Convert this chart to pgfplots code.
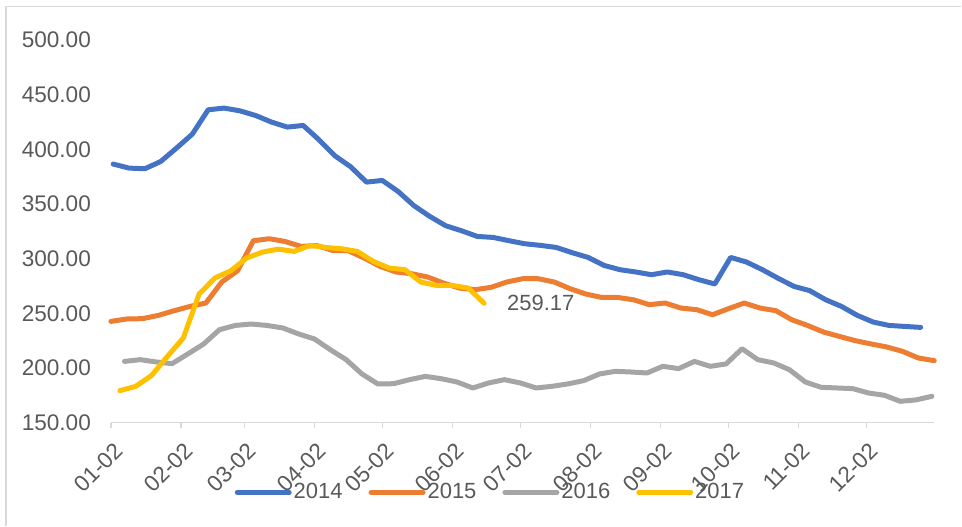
\documentclass[border=0pt]{standalone}
\usepackage{pgfplots}
\pgfplotsset{compat=1.18}
\usepackage{fontspec}
\setmainfont{Liberation Sans}
\definecolor{c14}{HTML}{4472C4}
\definecolor{c15}{HTML}{ED7D31}
\definecolor{c16}{HTML}{A5A5A5}
\definecolor{c17}{HTML}{FFC000}
\definecolor{txt}{HTML}{595959}
\definecolor{axl}{HTML}{D9D9D9}
\begin{document}
\begin{tikzpicture}
\begin{axis}[
  scale only axis, width=412pt, height=191.5pt,
  xmin=0, xmax=364, ymin=150, ymax=500,
  axis lines*=left,
  x axis line style={draw=axl, line width=0.8pt},
  y axis line style={draw=none},
  xtick={0,31,59,90,120,151,181,212,243,273,304,334},
  xticklabels={01-02,02-02,03-02,04-02,05-02,06-02,07-02,08-02,09-02,10-02,11-02,12-02},
  ytick={150,200,...,500},
  tick align=outside, major tick length=2.5pt,
  xtick style={draw=axl, line width=0.8pt},
  ytick style={draw=none},
  /pgf/number format/fixed,
  /pgf/number format/fixed zerofill,
  /pgf/number format/precision=2,
  /pgf/number format/assume math mode=true,
  yticklabel style={xshift=-4pt},
  xticklabel style={rotate=45, anchor=east, yshift=-9.5pt, xshift=-0.5pt},
  tick label style={font=\fontsize{11.3}{13}\selectfont, text=txt},
  clip=false,
  legend columns=4,
  legend style={draw=none, fill=none, at={(0.461,-0.182)}, anchor=center,
    font=\fontsize{11}{13}\selectfont, text=txt,
    /tikz/every even column/.append style={column sep=12pt},
    nodes={inner sep=1pt}},
  legend image code/.code={\draw[#1, line width=2.5pt, line cap=round] (0pt,0pt) -- (26pt,0pt);},
  every axis plot/.append style={line width=2.5pt, line join=round, line cap=round, mark=none},
]
\path (rel axis cs:-0.13471,-0.26893) rectangle (rel axis cs:1.03277,1.10444);
\draw[axl, line width=0.8pt] (rel axis cs:-0.12743,-0.26893) -- (rel axis cs:-0.12743,1.0869) -- (rel axis cs:1.03277,1.0869);
\addplot[c14] table[x expr={7*\coordindex+1}, y=v] {
v
386.5
382.8
382.2
388.8
401.1
413.9
436.1
437.7
435.2
430.9
424.9
420.3
421.8
408.7
394.1
384.0
370.0
371.5
361.4
348.4
338.6
330.1
325.5
320.3
319.4
316.4
313.6
312.1
310.2
305.4
301.1
293.8
289.9
287.8
285.3
287.8
285.3
280.7
276.8
301.1
296.9
289.9
282.0
274.6
270.7
262.4
256.3
248.1
242.0
238.9
238.0
237.1
};
\addlegendentry{2014}
\addplot[c15] table[x expr={7*\coordindex}, y=v] {
v
242.6
244.8
245.1
248.1
252.4
256.3
259.4
278.6
288.9
316.4
318.2
315.7
311.2
312.0
307.5
307.2
300.5
292.9
287.8
286.2
283.2
277.7
273.1
271.6
273.7
278.6
281.6
281.6
278.6
272.5
267.6
264.5
264.5
262.4
257.9
259.4
254.8
253.3
248.7
254.2
259.4
254.8
252.4
244.1
238.9
232.9
228.9
225.0
222.0
219.2
215.2
209.1
206.7
};
\addlegendentry{2015}
\addplot[c16] table[x expr={7*\coordindex+6}, y=v] {
v
206.0
207.6
205.5
203.9
212.8
221.9
235.0
238.9
240.2
238.9
236.6
231.1
226.5
216.7
207.6
194.5
185.4
185.6
189.3
192.3
190.2
187.2
181.7
186.3
189.3
186.3
181.7
183.2
185.4
188.4
194.5
196.9
196.3
195.4
201.5
199.4
206.0
201.5
203.7
217.6
207.6
204.6
198.4
187.2
182.3
181.7
181.1
177.1
175.0
169.5
170.8
174.1
};
\addlegendentry{2016}
\addplot[c17] table[x expr={7*\coordindex+4}, y=v] {
v
179.3
183.2
193.2
210.6
227.4
267.6
282.3
288.9
300.5
306.0
308.7
306.6
312.1
310.2
309.0
306.6
297.5
291.4
289.9
278.6
275.5
275.5
273.1
259.17
};
\addlegendentry{2017}
\node[anchor=west, text=txt, font=\fontsize{11}{13}\selectfont, xshift=8pt] at (axis cs:165,259.17) {259.17};
\end{axis}
\end{tikzpicture}
\end{document}
